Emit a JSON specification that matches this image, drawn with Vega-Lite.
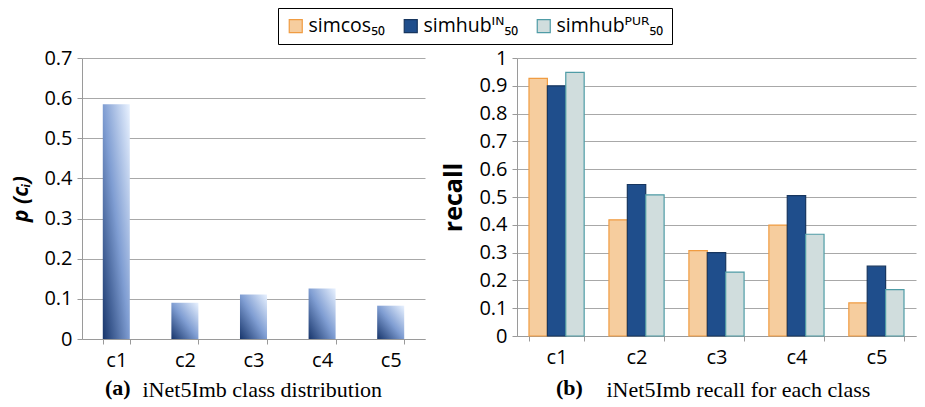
{
  "$schema": "https://vega.github.io/schema/vega-lite/v6.json",
  "background": "white",
  "padding": {"left": 10, "top": 7, "right": 5, "bottom": 5},
  "spacing": 16,
  "datasets": {
    "dist": [
      {"cls": "c1", "p": 0.585},
      {"cls": "c2", "p": 0.09},
      {"cls": "c3", "p": 0.111},
      {"cls": "c4", "p": 0.126},
      {"cls": "c5", "p": 0.083}
    ],
    "recall": [
      {"cls": "c1", "method": "simcos₅₀", "recall": 0.927},
      {"cls": "c1", "method": "simhubᴵᴺ₅₀", "recall": 0.9},
      {"cls": "c1", "method": "simhubᴾᵁᴿ₅₀", "recall": 0.948},
      {"cls": "c2", "method": "simcos₅₀", "recall": 0.418},
      {"cls": "c2", "method": "simhubᴵᴺ₅₀", "recall": 0.545},
      {"cls": "c2", "method": "simhubᴾᵁᴿ₅₀", "recall": 0.508},
      {"cls": "c3", "method": "simcos₅₀", "recall": 0.307},
      {"cls": "c3", "method": "simhubᴵᴺ₅₀", "recall": 0.3},
      {"cls": "c3", "method": "simhubᴾᵁᴿ₅₀", "recall": 0.23},
      {"cls": "c4", "method": "simcos₅₀", "recall": 0.399},
      {"cls": "c4", "method": "simhubᴵᴺ₅₀", "recall": 0.505},
      {"cls": "c4", "method": "simhubᴾᵁᴿ₅₀", "recall": 0.366},
      {"cls": "c5", "method": "simcos₅₀", "recall": 0.119},
      {"cls": "c5", "method": "simhubᴵᴺ₅₀", "recall": 0.251},
      {"cls": "c5", "method": "simhubᴾᵁᴿ₅₀", "recall": 0.167}
    ]
  },
  "hconcat": [
    {
      "width": 343,
      "height": 281,
      "data": {"name": "dist"},
      "title": {
        "text": "(a)",
        "orient": "bottom",
        "anchor": "start",
        "frame": "group",
        "font": "Liberation Serif",
        "fontSize": 22,
        "fontWeight": "bold",
        "color": "black",
        "dx": 23,
        "offset": -22
      },
      "mark": {
        "type": "bar",
        "color": {
          "gradient": "linear",
          "x1": 0, "y1": 1, "x2": 1, "y2": 0,
          "stops": [
            {"offset": 0, "color": "#17356b"},
            {"offset": 0.5, "color": "#7f9dd2"},
            {"offset": 1, "color": "#e9f2ff"}
          ]
        }
      },
      "encoding": {
        "x": {
          "field": "cls",
          "type": "nominal",
          "scale": {"paddingInner": 0.606, "paddingOuter": 0.303},
          "axis": {
            "title": "iNet5Imb class distribution",
            "titleFont": "Liberation Serif",
            "titleFontSize": 22,
            "titleFontWeight": "normal",
            "titleColor": "black",
            "titleX": 60,
            "titleY": 57,
            "titleBaseline": "alphabetic",
            "titleAnchor": "start",
            "titleAlign": "left",
            "tickBand": "extent"
          }
        },
        "y": {
          "field": "p",
          "type": "quantitative",
          "scale": {"domain": [0, 0.7], "nice": false},
          "axis": {
            "title": "p (cᵢ)",
            "titleFontStyle": "italic",
            "titleFontSize": 21,
            "titlePadding": 12,
            "values": [0, 0.1, 0.2, 0.3, 0.4, 0.5, 0.6, 0.7],
            "format": "~g"
          }
        }
      }
    },
    {
      "width": 399,
      "height": 278,
      "data": {"name": "recall"},
      "title": {
        "text": "(b)",
        "orient": "bottom",
        "anchor": "start",
        "frame": "group",
        "font": "Liberation Serif",
        "fontSize": 22,
        "fontWeight": "bold",
        "color": "black",
        "dx": 39,
        "offset": -22
      },
      "mark": {"type": "bar", "strokeWidth": 1.2},
      "encoding": {
        "x": {
          "field": "cls",
          "type": "nominal",
          "scale": {"paddingInner": 0.31, "paddingOuter": 0.15},
          "axis": {
            "title": "iNet5Imb recall for each class",
            "titleFont": "Liberation Serif",
            "titleFontSize": 22,
            "titleFontWeight": "normal",
            "titleColor": "black",
            "titleX": 89,
            "titleY": 60,
            "titleBaseline": "alphabetic",
            "titleAnchor": "start",
            "titleAlign": "left",
            "tickBand": "extent"
          }
        },
        "xOffset": {
          "field": "method",
          "type": "nominal",
          "sort": ["simcos₅₀", "simhubᴵᴺ₅₀", "simhubᴾᵁᴿ₅₀"],
          "scale": {"paddingInner": 0, "paddingOuter": 0}
        },
        "y": {
          "field": "recall",
          "type": "quantitative",
          "scale": {"domain": [0, 1], "nice": false},
          "axis": {
            "title": "recall",
            "titleFontSize": 25,
            "titlePadding": 12,
            "values": [0, 0.1, 0.2, 0.3, 0.4, 0.5, 0.6, 0.7, 0.8, 0.9, 1],
            "format": "~g"
          }
        },
        "color": {
          "field": "method",
          "type": "nominal",
          "scale": {
            "domain": ["simcos₅₀", "simhubᴵᴺ₅₀", "simhubᴾᵁᴿ₅₀"],
            "range": ["#f6cd9e", "#1f4e8c", "#d0dddd"]
          },
          "legend": {
            "title": null,
            "orient": "none",
            "legendX": 196,
            "legendY": -50,
            "direction": "horizontal"
          }
        },
        "stroke": {
          "field": "method",
          "type": "nominal",
          "scale": {
            "domain": ["simcos₅₀", "simhubᴵᴺ₅₀", "simhubᴾᵁᴿ₅₀"],
            "range": ["#f09c42", "#17365f", "#4f9ca6"]
          },
          "legend": {
            "title": null,
            "orient": "none",
            "legendX": 196,
            "legendY": -50,
            "direction": "horizontal"
          }
        }
      }
    }
  ],
  "config": {
    "view": {"stroke": null},
    "font": "Open Sans",
    "axis": {
      "labelFont": "Open Sans",
      "labelFontSize": 20,
      "labelColor": "black",
      "titleFont": "Open Sans",
      "titleFontWeight": "bold",
      "titleColor": "black",
      "domainColor": "#9a9a9a",
      "tickColor": "#9a9a9a",
      "gridColor": "#a8a8a8",
      "gridWidth": 1,
      "tickSize": 5
    },
    "axisX": {"labelAngle": 0, "labelPadding": 6, "grid": false},
    "axisY": {"labelPadding": 5, "grid": true},
    "legend": {
      "labelFont": "Open Sans, DejaVu Sans",
      "labelFontSize": 19.5,
      "labelColor": "black",
      "symbolType": "square",
      "symbolSize": 169,
      "symbolStrokeWidth": 1.2,
      "strokeColor": "black",
      "padding": 8,
      "columnPadding": 16,
      "labelOffset": 3
    },
    "title": {"font": "Liberation Serif"}
  }
}
